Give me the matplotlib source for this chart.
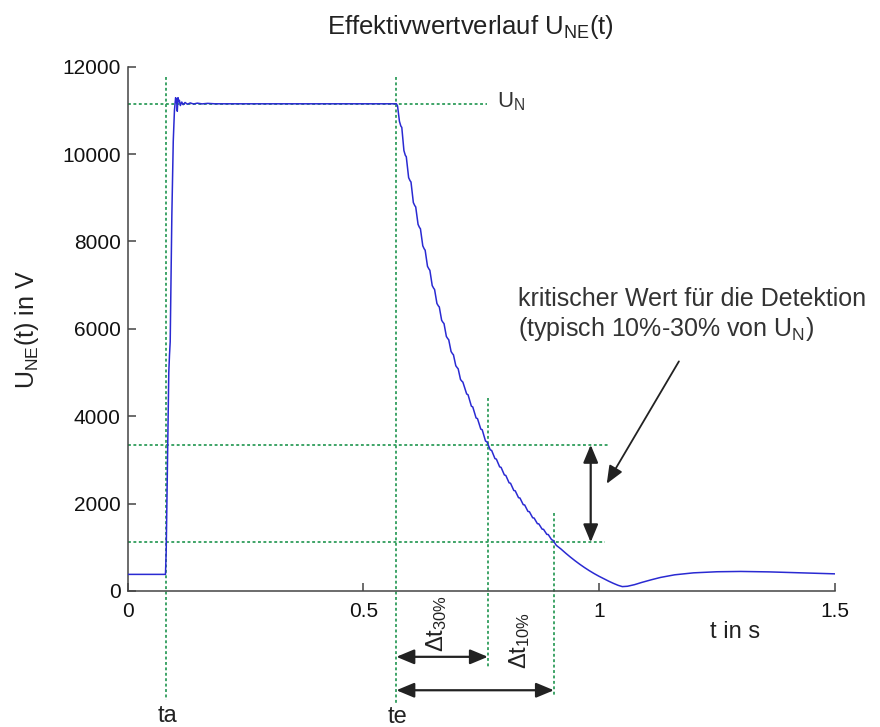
import matplotlib
matplotlib.use("Agg")
import matplotlib.pyplot as plt

plt.rcParams['font.family'] = ['Liberation Sans', 'DejaVu Sans']
plt.rcParams['mathtext.fontset'] = 'custom'
plt.rcParams['mathtext.rm'] = 'Liberation Sans'
plt.rcParams['mathtext.it'] = 'Liberation Sans:italic'
plt.rcParams['mathtext.bf'] = 'Liberation Sans:bold'

# RMS voltage U_NE(t): run-up, steady state, decay after switch-off
t_rise = [0.0, 0.0805, 0.082, 0.0845, 0.0875, 0.089, 0.0905, 0.094, 0.097,
          0.0995, 0.102, 0.1035, 0.1045, 0.1055, 0.107, 0.1085, 0.110, 0.112,
          0.115, 0.118, 0.122, 0.127, 0.133, 0.140, 0.148, 0.158, 0.170, 0.185]
u_rise = [380, 380, 900, 2800, 5000, 5400, 5700, 8600, 10300,
          11000, 11290, 11180, 11260, 10980, 11290, 11200, 11230, 11110,
          11190, 11130, 11180, 11140, 11170, 11145, 11165, 11148, 11160, 11150]

t_decay = [0.570, 0.5725, 0.5765, 0.5795, 0.5815, 0.586, 0.589, 0.591, 0.596,
           0.599, 0.601, 0.606, 0.609, 0.611, 0.616, 0.619, 0.621, 0.626,
           0.629, 0.631, 0.636, 0.639, 0.641, 0.646, 0.649, 0.651, 0.656,
           0.659, 0.661, 0.666, 0.669, 0.671, 0.676, 0.679, 0.681, 0.686,
           0.689, 0.691, 0.696, 0.699, 0.701, 0.706, 0.709, 0.711,
           0.719, 0.722, 0.729, 0.732, 0.739, 0.742, 0.749, 0.752,
           0.759, 0.762, 0.769, 0.772, 0.779, 0.782, 0.789, 0.792,
           0.799, 0.802, 0.809, 0.812, 0.819, 0.822, 0.829, 0.832,
           0.839, 0.842, 0.849, 0.852, 0.859, 0.862, 0.869, 0.872,
           0.879, 0.882, 0.889, 0.892, 0.899, 0.902, 0.909]
u_decay = [11150, 11100, 10750, 10640, 10610, 10080, 9970, 9940, 9460,
           9390, 9360, 8890, 8820, 8790, 8390, 8320, 8290, 7900,
           7830, 7800, 7430, 7370, 7340, 6990, 6930, 6900, 6580,
           6525, 6500, 6195, 6145, 6120, 5825, 5775, 5750, 5480,
           5430, 5405, 5155, 5110, 5085, 4840, 4800, 4780,
           4510, 4490, 4230, 4212, 3960, 3944, 3705, 3690,
           3430, 3416, 3230, 3217, 3030, 3018, 2840, 2829,
           2655, 2645, 2475, 2466, 2300, 2292, 2135, 2128,
           1975, 1969, 1820, 1815, 1675, 1670, 1540, 1536,
           1415, 1411, 1295, 1292, 1175, 1160, 1045]

t_tail = [0.919, 0.929, 0.939, 0.949, 0.959, 0.969, 0.979, 0.989, 0.999,
          1.009, 1.020, 1.030, 1.040, 1.049, 1.060, 1.075, 1.090, 1.110,
          1.130, 1.160, 1.200, 1.250, 1.300, 1.360, 1.420, 1.500]
u_tail = [960, 865, 775, 690, 610, 535, 465, 400, 340,
          285, 225, 175, 130, 100, 108, 145, 195, 255,
          310, 370, 415, 440, 447, 437, 418, 392]

t = t_rise + t_decay + t_tail
u = u_rise + u_decay + u_tail

# marker times and levels
ta = 0.081
te = 0.570
t30 = 0.764
t10 = 0.904
U_N = 11150
U_30 = 3345
U_10 = 1115

blue = '#2a2ad2'
green = '#2f9d5c'
dark = '#222222'
dot = (0, (1.6, 1.4))

fig = plt.figure(figsize=(8.8, 7.27), dpi=100)
ax = fig.add_axes([0.1449, 0.1871, 0.804, 0.7212])

ax.plot(t, u, color=blue, lw=1.1, zorder=3)

# helper lines
ax.plot([ta, ta], [11770, -2500], color=green, ls=dot, lw=1.3, clip_on=False)
ax.plot([te, te], [11770, -2600], color=green, ls=dot, lw=1.3, clip_on=False)
ax.plot([t30, t30], [4420, -1740], color=green, ls=dot, lw=1.3, clip_on=False)
ax.plot([t10, t10], [1780, -2380], color=green, ls=dot, lw=1.3, clip_on=False)
ax.plot([0, 0.762], [U_N, U_N], color=green, ls=dot, lw=1.3, clip_on=False)
ax.plot([0, 1.019], [U_30, U_30], color=green, ls=dot, lw=1.3, clip_on=False)
ax.plot([0, 1.012], [U_10, U_10], color=green, ls=dot, lw=1.3, clip_on=False)

arr = dict(arrowstyle='<|-|>,head_length=0.6,head_width=0.25', color=dark,
           lw=1.6, mutation_scale=18, shrinkA=0, shrinkB=0)
ax.annotate('', xy=(0.982, U_10), xytext=(0.982, U_30), arrowprops=arr,
            annotation_clip=False)
ax.annotate('', xy=(t30, -1507), xytext=(te, -1507), arrowprops=arr,
            annotation_clip=False)
ax.annotate('', xy=(t10, -2272), xytext=(te, -2272), arrowprops=arr,
            annotation_clip=False)
ax.annotate('', xy=(1.016, 2455), xytext=(1.169, 5255),
            arrowprops=dict(arrowstyle='-|>,head_length=0.6,head_width=0.25',
                            color=dark, lw=1.3, mutation_scale=18,
                            shrinkA=0, shrinkB=0),
            annotation_clip=False)

ax.text(0.783, 11190, r'U$_{\mathrm{N}}$', fontsize=16, color='#333333',
        ha='left', va='center')
ax.text(0.828, 6677, 'kritischer Wert für die Detektion', fontsize=18,
        color='#333333', ha='left', va='center')
ax.text(0.828, 5990, r'(typisch 10%-30% von U$_{\mathrm{N}}$)', fontsize=18,
        color='#333333', ha='left', va='center')

ax.text(ta + 0.004, -2850, 'ta', fontsize=17, color='#222222',
        ha='center', va='center', clip_on=False)
ax.text(te + 0.002, -2890, 'te', fontsize=17, color='#222222',
        ha='center', va='center', clip_on=False)
ax.text(0.656, -735, r'$\Delta$t$_{30\%}$', fontsize=17, rotation=90,
        color='#222222', ha='center', va='center', clip_on=False)
ax.text(0.832, -1125, r'$\Delta$t$_{10\%}$', fontsize=17, rotation=90,
        color='#222222', ha='center', va='center', clip_on=False)
ax.text(1.288, -940, 't in s', fontsize=17, color='#222222',
        ha='center', va='center', clip_on=False)

fig.text(470 / 880, 1 - 27 / 727, r'Effektivwertverlauf U$_{\mathrm{NE}}$(t)',
         fontsize=18.5, color='#222222', ha='center', va='center')
fig.text(27 / 880, 1 - 330 / 727, r'U$_{\mathrm{NE}}$(t) in V', fontsize=18,
         color='#222222', ha='center', va='center', rotation=90)

ax.set_xlim(0, 1.5)
ax.set_ylim(0, 12000)
ax.set_xticks([0, 0.5, 1, 1.5])
ax.set_xticklabels(['0', '0.5', '1', '1.5'])
ax.set_yticks([0, 2000, 4000, 6000, 8000, 10000, 12000])
ax.spines['top'].set_visible(False)
ax.spines['right'].set_visible(False)
for s in ('left', 'bottom'):
    ax.spines[s].set_color('#444444')
    ax.spines[s].set_linewidth(1.1)
ax.tick_params(direction='in', length=6, width=1.1, colors='#444444',
               labelcolor='#111111', labelsize=15)
ax.tick_params(axis='x', pad=8)
ax.tick_params(axis='y', pad=5)

fig.savefig('out.png', dpi=100)
